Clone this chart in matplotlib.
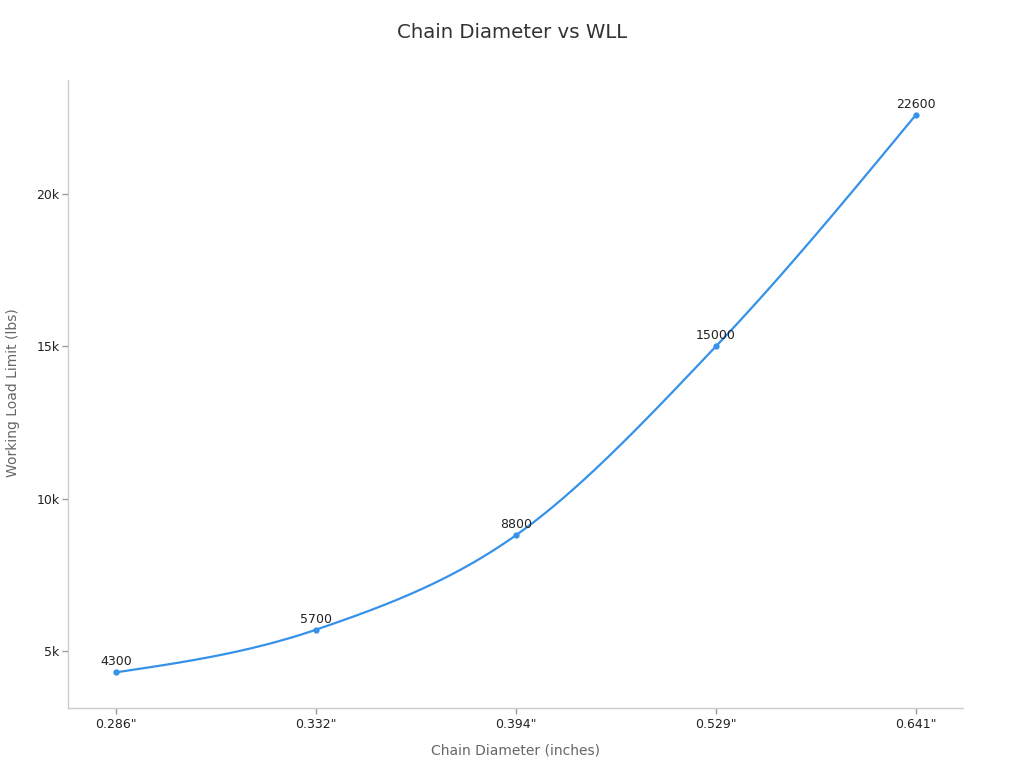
import numpy as np
import matplotlib
matplotlib.use("Agg")
import matplotlib.pyplot as plt
from matplotlib.ticker import FuncFormatter

categories = ['0.286"', '0.332"', '0.394"', '0.529"', '0.641"']
wll = [4300, 5700, 8800, 15000, 22600]

line_color = "#3592e8"

def monotone_curve(x, y, n=60):
    x = np.asarray(x, float); y = np.asarray(y, float)
    h = np.diff(x); d = np.diff(y) / h
    m = np.zeros_like(y)
    for i in range(1, len(y) - 1):
        if d[i - 1] * d[i] <= 0:
            m[i] = 0
        else:
            p = (d[i - 1] * h[i] + d[i] * h[i - 1]) / (h[i - 1] + h[i])
            m[i] = (np.sign(d[i - 1]) + np.sign(d[i])) * min(abs(d[i - 1]), abs(d[i]), 0.5 * abs(p))
    m[0] = (3 * d[0] - m[1]) / 2
    m[-1] = (3 * d[-1] - m[-2]) / 2
    xs, ys = [], []
    for i in range(len(x) - 1):
        t = np.linspace(0, 1, n)
        h00 = 2*t**3 - 3*t**2 + 1; h10 = t**3 - 2*t**2 + t
        h01 = -2*t**3 + 3*t**2; h11 = t**3 - t**2
        xs.append(x[i] + t * h[i])
        ys.append(h00*y[i] + h10*h[i]*m[i] + h01*y[i+1] + h11*h[i]*m[i+1])
    return np.concatenate(xs), np.concatenate(ys)

fig = plt.figure(figsize=(10.24, 7.68), dpi=100)
ax = fig.add_axes([68/1024, 1 - 708/768, (963 - 68)/1024, (708 - 80)/768])

xpos = np.arange(len(categories))
cx, cy = monotone_curve(xpos, wll)
ax.plot(cx, cy, color=line_color, lw=1.6, solid_capstyle="round")
ax.plot(xpos, wll, 'o', color=line_color, ms=3.5)

for xi, v in zip(xpos, wll):
    ax.annotate(str(v), (xi, v), xytext=(0, 3), textcoords="offset points",
                ha="center", va="bottom", fontsize=9, color="#222222")

ax.set_xlim(-0.24, 4.235)
ax.set_ylim(3130, 23740)
ax.set_xticks(xpos)
ax.set_xticklabels(categories)
ax.set_yticks([5000, 10000, 15000, 20000])
ax.yaxis.set_major_formatter(FuncFormatter(lambda v, p: f"{int(v/1000)}k"))

for s in ["top", "right"]:
    ax.spines[s].set_visible(False)
for s in ["left", "bottom"]:
    ax.spines[s].set_color("#cccccc")
    ax.spines[s].set_linewidth(1)
ax.tick_params(axis="both", colors="#999999", labelcolor="#222222", labelsize=9, length=4, width=1)
ax.tick_params(axis="x", pad=3)
ax.tick_params(axis="y", pad=2)

ax.set_xlabel("Chain Diameter (inches)", fontsize=10, color="#666666")
ax.set_ylabel("Working Load Limit (lbs)", fontsize=10, color="#666666")
ax.xaxis.set_label_coords(0.5, (708 - 750) / 628)
ax.yaxis.set_label_coords((13 - 68) / 895, (708 - 393) / 628)
ax.xaxis.label.set_va("center")
ax.yaxis.label.set_va("center")
fig.suptitle("Chain Diameter vs WLL", fontsize=14.2, color="#333333", y=1 - 33/768, va="center")

fig.savefig("out.png", dpi=100)
